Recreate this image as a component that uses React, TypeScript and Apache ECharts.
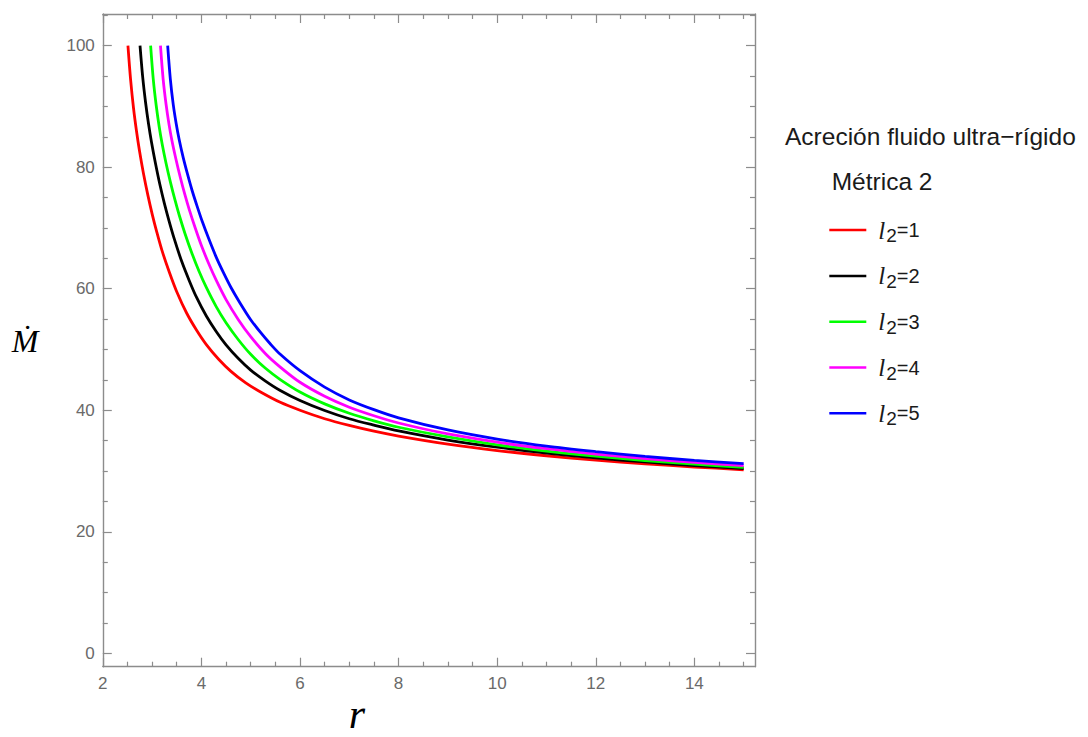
import React, { useEffect, useRef } from "react";
import * as echarts from "echarts";

// ---- data ----
const R_L1 = [2.51, 2.564, 2.624, 2.684, 2.744, 2.824, 2.914, 3.004, 3.094, 3.2, 3.35, 3.5, 3.7, 3.9, 4.1, 4.35, 4.6, 4.9, 5.2, 5.6, 6.0, 6.5, 7.0, 7.5, 8, 9, 10, 11, 12, 13, 14, 15];
const M_L1 = [100, 94.4, 89.65, 85.9, 82.7, 79.0, 75.4, 72.2, 69.35, 66.3, 62.7, 59.5, 56.0, 53.2, 50.8, 48.4, 46.4, 44.5, 43.0, 41.3, 40.0, 38.6, 37.5, 36.55, 35.75, 34.42, 33.37, 32.51, 31.79, 31.18, 30.66, 30.21];

const R_L2 = [2.755, 2.809, 2.869, 2.929, 2.989, 3.069, 3.159, 3.249, 3.339, 3.45, 3.6, 3.75, 3.9, 4.1, 4.3, 4.5, 4.75, 5.0, 5.3, 5.6, 6.0, 6.5, 7.0, 7.5, 8, 9, 10, 11, 12, 13, 14, 15];
const M_L2 = [100, 94.85, 90.55, 87.05, 84.05, 80.6, 77.1, 74.05, 71.3, 68.2, 64.5, 61.4, 58.6, 55.5, 52.95, 50.75, 48.5, 46.6, 44.8, 43.25, 41.6, 39.95, 38.6, 37.55, 36.6, 35.1, 33.92, 32.96, 32.16, 31.49, 30.91, 30.4];

const R_L3 = [2.97, 3.024, 3.084, 3.144, 3.204, 3.284, 3.374, 3.464, 3.554, 3.67, 3.8, 3.95, 4.1, 4.3, 4.5, 4.75, 5.0, 5.3, 5.6, 6.0, 6.5, 7.0, 7.5, 8, 9, 10, 11, 12, 13, 14, 15];
const M_L3 = [100, 94.45, 90.1, 86.65, 83.8, 80.6, 77.45, 74.6, 72.0, 69.0, 66.0, 62.9, 60.2, 57.05, 54.4, 51.6, 49.2, 46.9, 45.05, 43.0, 41.05, 39.5, 38.25, 37.2, 35.6, 34.3, 33.28, 32.44, 31.73, 31.12, 30.59];

const R_L4 = [3.17, 3.224, 3.284, 3.344, 3.404, 3.484, 3.574, 3.664, 3.754, 3.87, 4.0, 4.15, 4.3, 4.5, 4.75, 5.0, 5.3, 5.6, 6.0, 6.5, 7.0, 7.5, 8, 9, 10, 11, 12, 13, 14, 15];
const M_L4 = [100, 94.5, 90.3, 87.0, 84.3, 81.3, 78.25, 75.5, 73.0, 70.1, 67.1, 64.1, 61.4, 58.2, 54.9, 52.1, 49.3, 47.1, 44.6, 42.3, 40.5, 39.1, 37.9, 36.1, 34.75, 33.67, 32.78, 32.05, 31.41, 30.87];

const R_L5 = [3.316, 3.37, 3.43, 3.49, 3.55, 3.63, 3.72, 3.81, 3.9, 4.02, 4.15, 4.3, 4.45, 4.6, 4.78, 5.0, 5.2, 5.4, 5.6, 6.0, 6.5, 7.0, 7.5, 8, 9, 10, 11, 12, 13, 14, 15];
const M_L5 = [100, 94.5, 90.25, 87.1, 84.5, 81.6, 78.8, 76.2, 73.9, 71.0, 68.2, 65.2, 62.6, 60.2, 57.7, 54.9, 52.8, 50.9, 49.2, 46.5, 43.8, 41.7, 40.1, 38.75, 36.75, 35.25, 34.1, 33.2, 32.4, 31.75, 31.2];

const SERIES_NAMES = ["l2=1", "l2=2", "l2=3", "l2=4", "l2=5"];
const SERIES_R = [R_L1, R_L2, R_L3, R_L4, R_L5];
const SERIES_M = [M_L1, M_L2, M_L3, M_L4, M_L5];
const SERIES_COLORS = ["#ff0000", "#000000", "#00ff00", "#ff00ff", "#0000ff"];

const X_MAJOR = [2, 4, 6, 8, 10, 12, 14];
const X_MINOR = [2.5, 3, 3.5, 4.5, 5, 5.5, 6.5, 7, 7.5, 8.5, 9, 9.5, 10.5, 11, 11.5, 12.5, 13, 13.5, 14.5, 15];
const Y_MAJOR = [0, 20, 40, 60, 80, 100];
const Y_MINOR = [5, 10, 15, 25, 30, 35, 45, 50, 55, 65, 70, 75, 85, 90, 95, 105];

const X_MIN = 2;
const X_MAX = 15.23;
const Y_MIN = -2.2;
const Y_MAX = 105.2;

const TITLE_1 = "Acreción fluido ultra−rígido";
const TITLE_2 = "Métrica 2";
const Y_NAME = "Ṁ";
const X_NAME = "r";

const FRAME = "#8c8c8c";
const LABEL = "#6a6a6a";

function axis(dim: "x" | "y", position: string, ticks: number[], len: number, labels: boolean, showLine: boolean) {
  return {
    type: "value",
    position,
    min: dim === "x" ? X_MIN : Y_MIN,
    max: dim === "x" ? X_MAX : Y_MAX,
    axisLine: { show: showLine, onZero: false, lineStyle: { color: FRAME, width: 1.4 } },
    axisTick: { show: true, inside: true, length: len, customValues: ticks, lineStyle: { color: FRAME, width: 1.2 } },
    axisLabel: labels
      ? { show: true, customValues: ticks, color: LABEL, fontSize: 17, fontFamily: "Liberation Sans", margin: 8 }
      : { show: false },
    splitLine: { show: false },
  };
}

export default function App() {
  const ref = useRef<HTMLDivElement>(null);
  useEffect(() => {
    if (!ref.current) return;
    const chart = echarts.init(ref.current, null, { renderer: "svg" });
    const option: any = {
      animation: false,
      backgroundColor: "#ffffff",
      grid: { left: 102.8, top: 14, right: 333, bottom: 70.3, containLabel: false },
      xAxis: [
        axis("x", "bottom", X_MAJOR, 9, true, true),
        axis("x", "bottom", X_MINOR, 5, false, false),
        axis("x", "top", X_MAJOR, 9, false, true),
        axis("x", "top", X_MINOR, 5, false, false),
      ],
      yAxis: [
        axis("y", "left", Y_MAJOR, 9, true, true),
        axis("y", "left", Y_MINOR, 5, false, false),
        axis("y", "right", Y_MAJOR, 9, false, true),
        axis("y", "right", Y_MINOR, 5, false, false),
      ],
      legend: {
        orient: "vertical",
        left: 829.3,
        top: 217.6,
        padding: 0,
        itemGap: 18.3,
        itemWidth: 37,
        itemHeight: 2.5,
        icon: "rect",
        data: SERIES_NAMES,
        formatter: (name: string) => `{l|l}{s|2}{e|=${name.split("=")[1]}}`,
        textStyle: {
          color: "#1a1a1a",
          rich: {
            l: { fontFamily: "Liberation Serif", fontStyle: "italic", fontSize: 25, lineHeight: 30, color: "#1a1a1a", padding: [0, 1, 0, 7] },
            s: { fontFamily: "Liberation Sans", fontSize: 19, lineHeight: 17, verticalAlign: "bottom", color: "#1a1a1a" },
            e: { fontFamily: "Liberation Sans", fontSize: 20, lineHeight: 30, color: "#1a1a1a" },
          },
        },
      },
      graphic: [
        {
          type: "text", x: 785, y: 136.7,
          style: { text: TITLE_1, fontFamily: "Liberation Sans", fontSize: 24.5, fill: "#1a1a1a", textVerticalAlign: "middle", textAlign: "left" },
        },
        {
          type: "text", x: 831.7, y: 181.7,
          style: { text: TITLE_2, fontFamily: "Liberation Sans", fontSize: 24.5, fill: "#1a1a1a", textVerticalAlign: "middle", textAlign: "left" },
        },
        {
          type: "text", x: 25, y: 340.5,
          style: { text: Y_NAME, fontFamily: "Liberation Serif", fontStyle: "italic", fontSize: 32, fill: "#000", textVerticalAlign: "middle", textAlign: "center" },
        },
        {
          type: "text", x: 357, y: 714,
          style: { text: X_NAME, fontFamily: "Liberation Serif", fontStyle: "italic", fontSize: 42, fill: "#000", textVerticalAlign: "middle", textAlign: "center" },
        },
      ],
      series: SERIES_NAMES.map((name, i) => ({
        name,
        type: "line",
        xAxisIndex: 0,
        yAxisIndex: 0,
        showSymbol: false,
        symbol: "none",
        smooth: 0.3,
        clip: true,
        lineStyle: { color: SERIES_COLORS[i], width: 2.8 },
        itemStyle: { color: SERIES_COLORS[i] },
        data: SERIES_R[i].map((r, k) => [r, SERIES_M[i][k]]),
      })),
    };
    chart.setOption(option);
    return () => chart.dispose();
  }, []);
  return (
    <div
      ref={ref}
      style={{ position: "fixed", left: 0, top: 0, width: 1088, height: 737, background: "#fff" }}
    />
  );
}
